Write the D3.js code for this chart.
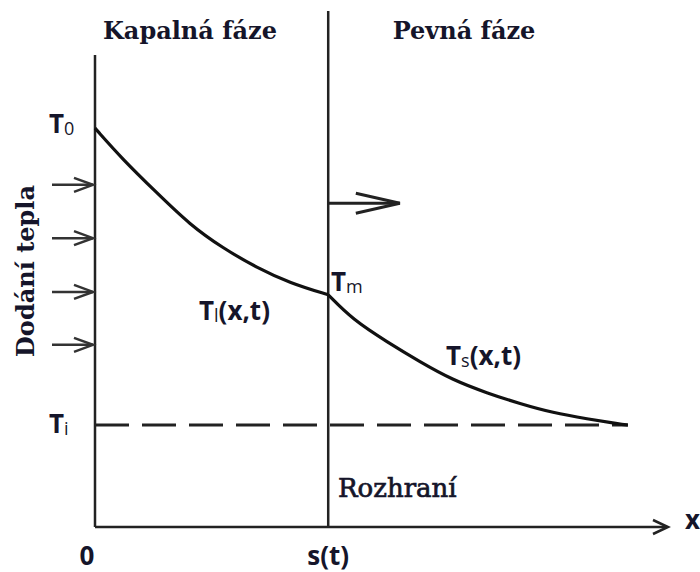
<!DOCTYPE html>
<html>
<head>
<meta charset="utf-8">
<script src="https://cdn.jsdelivr.net/npm/d3@7"></script>
<style>
  body { margin: 0; background: #fff; }
  svg { display: block; }
</style>
</head>
<body>
<div id="chart"></div>
<script>
// size of the picture
const WIDTH = 700;
const HEIGHT = 572;

// temperature profile, liquid side (x, T)
const liquidX = [0, 0.49, 1.08, 1.66, 2.23, 2.83, 3.40, 4.07];
const liquidT = [84.5, 77.8, 70.8, 64.0, 59.1, 54.9, 51.7, 49.2];
// temperature profile, solid side
const solidX = [4.07, 4.50, 5.10, 5.67, 6.25, 6.84, 7.42, 7.99, 8.59, 9.16, 9.30];
const solidT = [49.2, 43.9, 39.2, 35.0, 31.1, 28.4, 26.1, 24.2, 22.9, 21.8, 21.6];

// characteristic values
const T0 = 84.5;
const Tm = 49.2;
const Ti = 21.6;
const interfaceX = 4.07;
const dashEndX = 9.30;
// heat input arrows (temperature level of each)
const heatArrows = [72.5, 61.2, 49.8, 38.6];
const frontArrowT = 68.6;
const frontArrowLen = 1.25;

let xScale = d3.scaleLinear().domain([0, 10]).range([95, 668]);
let yScale = d3.scaleLinear().domain([0, 100]).range([527, 55]);

const ink = "#222";
const txt = "#15152a";

let svg = d3.select("#chart").append("svg")
    .attr("width", WIDTH)
    .attr("height", HEIGHT);

// axes
svg.append("line")
    .attr("x1", xScale(0)).attr("x2", xScale(0))
    .attr("y1", yScale(100)).attr("y2", yScale(0))
    .attr("stroke", ink).attr("stroke-width", 2.5);

svg.append("line")
    .attr("x1", xScale(0)).attr("x2", xScale(10) - 2)
    .attr("y1", yScale(0)).attr("y2", yScale(0))
    .attr("stroke", ink).attr("stroke-width", 2.5);

svg.append("path")
    .attr("d", `M${xScale(10) - 15},${yScale(0) - 7} L${xScale(10)},${yScale(0)} L${xScale(10) - 15},${yScale(0) + 7}`)
    .attr("fill", "none").attr("stroke", ink).attr("stroke-width", 2.5);

// interface
svg.append("line")
    .attr("x1", xScale(interfaceX)).attr("x2", xScale(interfaceX))
    .attr("y1", 11).attr("y2", yScale(0))
    .attr("stroke", ink).attr("stroke-width", 2.5);

// initial temperature, dashed
svg.append("line")
    .attr("x1", xScale(0)).attr("x2", xScale(dashEndX))
    .attr("y1", yScale(Ti)).attr("y2", yScale(Ti))
    .attr("stroke", ink).attr("stroke-width", 3)
    .attr("stroke-dasharray", "34,13");

// profiles
let line = d3.line()
    .x(d => xScale(d[0]))
    .y(d => yScale(d[1]))
    .curve(d3.curveBasis);

let liquid = d3.zip(liquidX, liquidT);
let solid = d3.zip(solidX, solidT);

svg.selectAll(".profile")
    .data([liquid, solid])
    .enter().append("path")
    .attr("class", "profile")
    .attr("d", line)
    .attr("fill", "none")
    .attr("stroke", "#111")
    .attr("stroke-width", 3.2);

// heat input arrows
let ha = svg.selectAll(".heat")
    .data(heatArrows)
    .enter().append("g")
    .attr("class", "heat");

ha.append("line")
    .attr("x1", 52).attr("x2", xScale(0) - 2)
    .attr("y1", d => yScale(d)).attr("y2", d => yScale(d))
    .attr("stroke", "#333").attr("stroke-width", 2.5);

ha.append("path")
    .attr("d", d => `M${xScale(0) - 21},${yScale(d) - 7} L${xScale(0) - 2},${yScale(d)} L${xScale(0) - 21},${yScale(d) + 7}`)
    .attr("fill", "none").attr("stroke", "#333").attr("stroke-width", 2.5);

// moving front arrow
let fx0 = xScale(interfaceX), fx1 = xScale(interfaceX + frontArrowLen), fy = yScale(frontArrowT);
svg.append("line")
    .attr("x1", fx0).attr("x2", fx1)
    .attr("y1", fy).attr("y2", fy)
    .attr("stroke", ink).attr("stroke-width", 3);
svg.append("path")
    .attr("d", `M${fx1 - 44},${fy - 10} L${fx1},${fy} L${fx1 - 44},${fy + 10}`)
    .attr("fill", "none").attr("stroke", ink).attr("stroke-width", 3);

// serif captions
const serif = "'DejaVu Serif', serif";
const sans = "'Open Sans', 'Liberation Sans', sans-serif";

function label(x, y, text, opts) {
    return svg.append("text")
        .attr("x", x).attr("y", y)
        .attr("font-family", opts.font)
        .attr("font-size", opts.size)
        .attr("font-weight", opts.weight || "bold")
        .attr("text-anchor", opts.anchor || "start")
        .attr("fill", txt)
        .text(text);
}

label(190, 39, "Kapalná fáze", { font: serif, size: 24, anchor: "middle" });
label(464, 39, "Pevná fáze", { font: serif, size: 24, anchor: "middle" });
label(338, 497, "Rozhraní", { font: serif, size: 26, weight: "normal" })
    .attr("stroke", txt).attr("stroke-width", 0.7);

svg.append("text")
    .attr("transform", `translate(34,271) rotate(-90)`)
    .attr("text-anchor", "middle")
    .attr("font-family", serif)
    .attr("font-size", 24)
    .attr("font-weight", "bold")
    .attr("fill", txt)
    .text("Dodání tepla");

// symbols with subscripts
function sym(x, y, main, sub, rest) {
    let t = svg.append("text")
        .attr("x", x).attr("y", y)
        .attr("font-family", sans)
        .attr("font-size", 26)
        .attr("font-weight", "bold")
        .attr("fill", txt);
    t.append("tspan").text(main);
    if (sub) t.append("tspan").attr("font-size", 18).attr("font-weight", "normal").attr("dy", 2).text(sub);
    if (rest) t.append("tspan").attr("dy", -2).text(rest);
    return t;
}

sym(49, yScale(T0) + 5, "T", "0");
sym(49, yScale(Ti) + 8, "T", "i");
sym(331, yScale(Tm) - 4, "T", "m");
sym(199, 320, "T", "l", "(x,t)");
sym(446, 365, "T", "s", "(x,t)");

label(xScale(0) - 8, 565, "0", { font: sans, size: 26, anchor: "middle" });
label(xScale(interfaceX), 565, "s(t)", { font: sans, size: 26, anchor: "middle" });
label(685, 529, "x", { font: sans, size: 26 });
</script>
</body>
</html>
